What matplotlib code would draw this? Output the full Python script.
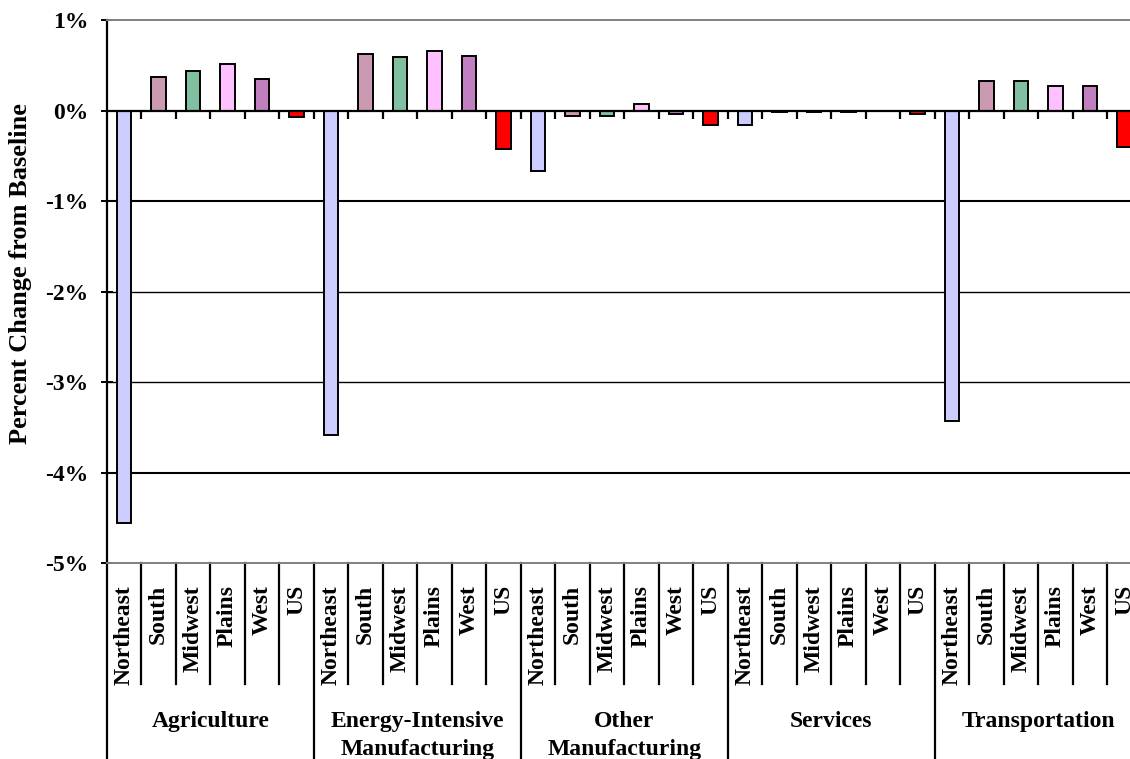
import matplotlib
matplotlib.use("Agg")
import matplotlib.pyplot as plt
import numpy as np

plt.rcParams['font.family'] = ['Liberation Serif', 'DejaVu Serif']
plt.rcParams['font.weight'] = 'bold'

sectors = ["Agriculture", "Energy-Intensive\nManufacturing", "Other\nManufacturing",
           "Services", "Transportation"]
regions = ["Northeast", "South", "Midwest", "Plains", "West", "US"]
region_colors = ["#CCCCFF", "#CC99B2", "#80C0A0", "#FFC0FF", "#C080C0", "#FF0000"]

agriculture = [-4.55, 0.37, 0.44, 0.51, 0.35, -0.07]
energy_intensive = [-3.58, 0.62, 0.59, 0.66, 0.60, -0.42]
other_manufacturing = [-0.67, -0.06, -0.06, 0.07, -0.04, -0.16]
services = [-0.16, -0.02, -0.02, -0.02, 0.0, -0.04]
transportation = [-3.43, 0.33, 0.33, 0.27, 0.27, -0.40]

yticks = [1, 0, -1, -2, -3, -4, -5]
ytick_labels = ["1%", "0%", "-1%", "-2%", "-3%", "-4%", "-5%"]

series = [agriculture, energy_intensive, other_manufacturing, services, transportation]
values = np.concatenate(series)
n_reg = len(regions)
n = len(values)
x = np.arange(n) + 0.5
colors = region_colors * len(sectors)
labels = regions * len(sectors)

W, H = 1130, 759
fig = plt.figure(figsize=(W / 100, H / 100), dpi=100)
left_px, right_px = 106.75, 106.75 + 30 * 34.5
top_px, bot_px = 20.0, 563.3
ax = fig.add_axes([left_px / W, 1 - bot_px / H, (right_px - left_px) / W, (bot_px - top_px) / H])

ax.set_xlim(0, n)
ax.set_ylim(-5, 1)

# gridlines
grid_widths = {-1: 1.5, -2: 1.0, -3: 1.0, -4: 1.5}
for yv, lw in grid_widths.items():
    ax.axhline(yv, color="black", lw=lw, zorder=1)

ax.bar(x, values, width=0.42, color=colors, edgecolor="black", linewidth=1.4, zorder=2)

ax.axhline(0, color="black", lw=1.6, zorder=3)
# ticks on zero line at category boundaries
bounds = np.arange(1, n)
ax.vlines(bounds, -0.09, 0, color="black", lw=1.6, zorder=3)

ax.spines["right"].set_visible(False)
ax.spines["top"].set_color("#808080")
ax.spines["top"].set_linewidth(1.4)
ax.spines["bottom"].set_color("#808080")
ax.spines["bottom"].set_linewidth(1.4)
ax.spines["left"].set_color("black")
ax.spines["left"].set_linewidth(1.6)

ax.set_yticks(yticks)
ax.set_yticklabels(ytick_labels, fontsize=17, fontweight="bold")
ax.tick_params(axis="y", direction="inout", length=8, width=1.4, pad=9)
ax.set_xticks([])

trans = ax.get_xaxis_transform()
ax_h = bot_px - top_px
inner_end = -(684 - bot_px) / ax_h
group_end = -(760 - bot_px) / ax_h
for b in range(0, n + 1):
    end = group_end if b % n_reg == 0 else inner_end
    ax.plot([b, b], [0, end], transform=trans, color="black", lw=1.6, clip_on=False)

lab_top = -(585 - bot_px) / ax_h
for xi, lab in zip(x, labels):
    ax.text(xi, lab_top, lab, rotation=90, ha="center", va="top", transform=trans,
            fontsize=17, fontweight="bold", clip_on=False)

grp_top = -(711 - bot_px) / ax_h
for g, name in enumerate(sectors):
    ax.text(g * n_reg + n_reg / 2, grp_top, name, ha="center", va="top", transform=trans,
            fontsize=17, fontweight="bold", linespacing=1.45, clip_on=False)

fig.text(21 / W, 1 - 274 / H, "Percent Change from Baseline", rotation=90,
         ha="center", va="center", fontsize=19, fontweight="bold")

fig.savefig("out.png", dpi=100)
